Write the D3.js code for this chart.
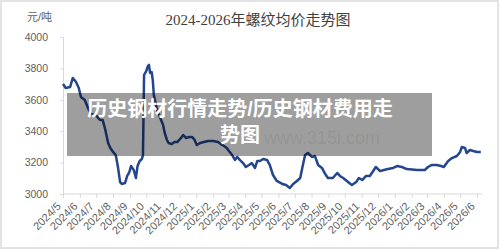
<!DOCTYPE html>
<html>
<head>
<meta charset="utf-8">
<script src="https://cdn.jsdelivr.net/npm/d3@7"></script>
<style>
  html, body { margin: 0; padding: 0; background: #fff; }
  svg { display: block; }
</style>
</head>
<body>
<div id="chart"></div>
<script>
// rebar average price, yuan per tonne
let dates = [
    '2024-05-01', '2024-05-06', '2024-05-14', '2024-05-19', '2024-05-25', '2024-05-30',
    '2024-06-03', '2024-06-10', '2024-06-16', '2024-06-21', '2024-06-30',
    '2024-07-08', '2024-07-13', '2024-07-17', '2024-07-23', '2024-07-27',
    '2024-08-01', '2024-08-06', '2024-08-10', '2024-08-14', '2024-08-17', '2024-08-23', '2024-08-27', '2024-08-31',
    '2024-09-03', '2024-09-08', '2024-09-12', '2024-09-15', '2024-09-19', '2024-09-23', '2024-09-25', '2024-09-27',
    '2024-10-01', '2024-10-04', '2024-10-06', '2024-10-08', '2024-10-11', '2024-10-13', '2024-10-15', '2024-10-20', '2024-10-26',
    '2024-11-01', '2024-11-04', '2024-11-08', '2024-11-11', '2024-11-17', '2024-11-22', '2024-11-27',
    '2024-12-04', '2024-12-08', '2024-12-13', '2024-12-19', '2024-12-24', '2024-12-28',
    '2025-01-02', '2025-01-08', '2025-01-15', '2025-01-23',
    '2025-02-01', '2025-02-10', '2025-02-15', '2025-02-21', '2025-02-26',
    '2025-03-02', '2025-03-08', '2025-03-13', '2025-03-17', '2025-03-22', '2025-03-28',
    '2025-04-02', '2025-04-08', '2025-04-13', '2025-04-19', '2025-04-23', '2025-04-28',
    '2025-05-04', '2025-05-11', '2025-05-16', '2025-05-22', '2025-05-29',
    '2025-06-08', '2025-06-15', '2025-06-22', '2025-06-28',
    '2025-07-05', '2025-07-11', '2025-07-16', '2025-07-20', '2025-07-25',
    '2025-08-02', '2025-08-07', '2025-08-13', '2025-08-20', '2025-08-26', '2025-08-31',
    '2025-09-09', '2025-09-17', '2025-09-22', '2025-09-28',
    '2025-10-07', '2025-10-14', '2025-10-22', '2025-10-27',
    '2025-11-02', '2025-11-09', '2025-11-16', '2025-11-21', '2025-11-27',
    '2025-12-05', '2025-12-12', '2025-12-19', '2025-12-29',
    '2026-01-05', '2026-01-14', '2026-01-23',
    '2026-02-11', '2026-02-25',
    '2026-03-03', '2026-03-10', '2026-03-19', '2026-03-27',
    '2026-04-01', '2026-04-09', '2026-04-16', '2026-04-25',
    '2026-05-01', '2026-05-04', '2026-05-10', '2026-05-13', '2026-05-19', '2026-05-25',
    '2026-06-01', '2026-06-08'
];

let prices = [
    3701, 3675, 3681, 3739, 3713, 3675,
    3618, 3599, 3548, 3510, 3503,
    3471, 3471, 3420, 3325, 3293,
    3268, 3248, 3172, 3076, 3064, 3070, 3115, 3140,
    3178, 3153, 3102, 3178, 3210, 3223, 3248, 3758,
    3783, 3815, 3822, 3771, 3777, 3726, 3631, 3548, 3490,
    3439, 3389, 3344, 3325, 3318, 3331, 3331,
    3357, 3376, 3357, 3363, 3363, 3350,
    3312, 3325, 3331, 3338,
    3338, 3331, 3318, 3306, 3293,
    3274, 3248, 3217, 3236, 3217, 3197,
    3172, 3185, 3197, 3166, 3210, 3210,
    3223, 3217, 3185, 3121, 3083,
    3064, 3057, 3038, 3064,
    3083, 3102, 3185, 3248, 3261,
    3236, 3242, 3185, 3166, 3127, 3102,
    3102, 3134, 3115, 3102,
    3076, 3057, 3076, 3102,
    3089, 3115, 3115, 3140, 3172,
    3146, 3153, 3159, 3166,
    3178, 3172, 3159,
    3153, 3153,
    3172, 3185, 3185, 3178,
    3172, 3210, 3229, 3242,
    3268, 3299, 3293, 3261, 3280, 3274,
    3268, 3268
];

let y_ticks = [3000, 3200, 3400, 3600, 3800, 4000];
let month_ticks = [
    '2024-05-01', '2024-06-01', '2024-07-01', '2024-08-01', '2024-09-01', '2024-10-01',
    '2024-11-01', '2024-12-01', '2025-01-01', '2025-02-01', '2025-03-01', '2025-04-01',
    '2025-05-01', '2025-06-01', '2025-07-01', '2025-08-01', '2025-09-01', '2025-10-01',
    '2025-11-01', '2025-12-01', '2026-01-01', '2026-02-01', '2026-03-01', '2026-04-01',
    '2026-05-01', '2026-06-01'
];

let title = '2024-2026年螺纹均价走势图';
let unit = '元/吨';
let caption = ['历史钢材行情走势/历史钢材费用走', '势图'];
let watermark = 'www.315i.com';

const width = 500, height = 250;
const axis_color = '#d9d9d9';
const text_color = '#5f5f5f';
const sans = '"Liberation Sans", "Noto Sans CJK SC", sans-serif';
const serif = '"Liberation Serif", "Noto Sans CJK SC", serif';

let parse = d3.utcParse('%Y-%m-%d');
let data = dates.map(function (d, i) { return { date: parse(d), value: prices[i] }; });

let svg = d3.select('#chart')
    .append('svg')
    .attr('width', width)
    .attr('height', height);

svg.append('rect')
    .attr('x', 1)
    .attr('y', 1)
    .attr('width', width - 3)
    .attr('height', height - 3)
    .attr('fill', '#fff')
    .attr('stroke', '#e3e3e3')
    .attr('stroke-width', 2);

let x = d3.scaleUtc()
    .domain([parse(month_ticks[0]), parse(month_ticks[month_ticks.length - 1])])
    .range([63, 477]);

let y = d3.scaleLinear()
    .domain([3000, 4000])
    .range([194, 37]);

// title and unit
svg.append('text')
    .attr('x', 258)
    .attr('y', 25)
    .attr('text-anchor', 'middle')
    .attr('font-family', serif)
    .attr('font-size', '15px')
    .attr('fill', '#404040')
    .text(title);

svg.append('text')
    .attr('x', 27)
    .attr('y', 21)
    .attr('font-family', sans)
    .attr('font-size', '11px')
    .attr('fill', text_color)
    .text(unit);

// y axis
let y_axis = svg.append('g')
    .attr('transform', 'translate(63, 0)')
    .call(d3.axisLeft(y)
        .tickValues(y_ticks)
        .tickFormat(d3.format('d'))
        .tickSize(3)
        .tickPadding(12));

y_axis.selectAll('path, line').attr('stroke', axis_color);
y_axis.selectAll('text')
    .attr('font-family', sans)
    .attr('font-size', '10.5px')
    .attr('fill', text_color);

// x axis
let x_axis = svg.append('g')
    .attr('transform', 'translate(0, 194)')
    .call(d3.axisBottom(x)
        .tickValues(month_ticks.map(parse))
        .tickFormat(d3.utcFormat('%Y/%-m'))
        .tickSize(4)
        .tickSizeOuter(0));

x_axis.select('.domain')
    .attr('d', 'M63,0H482')
    .attr('stroke', axis_color);
x_axis.selectAll('line').attr('stroke', axis_color);
x_axis.selectAll('text')
    .attr('font-family', sans)
    .attr('font-size', '11px')
    .attr('fill', text_color)
    .attr('text-anchor', 'end')
    .attr('dy', null)
    .attr('y', 0)
    .attr('transform', 'translate(-2, 13) rotate(-45)');

// price line
let line = d3.line()
    .x(function (d) { return x(d.date); })
    .y(function (d) { return y(d.value); });

svg.append('path')
    .datum(data)
    .attr('fill', 'none')
    .attr('stroke', '#24468e')
    .attr('stroke-width', 2.5)
    .attr('stroke-linejoin', 'round')
    .attr('d', line);

// watermark under the caption band
svg.append('text')
    .attr('x', 264)
    .attr('y', 144)
    .attr('font-family', sans)
    .attr('font-size', '18px')
    .attr('fill', '#000')
    .attr('fill-opacity', 0.08)
    .text(watermark);

// caption band
svg.append('rect')
    .attr('x', 67)
    .attr('y', 93)
    .attr('width', 365)
    .attr('height', 63)
    .attr('fill', '#000')
    .attr('fill-opacity', 0.38);

svg.append('g')
    .selectAll('text')
    .data(caption)
    .join('text')
    .attr('x', 240)
    .attr('y', function (d, i) { return 116 + i * 26; })
    .attr('text-anchor', 'middle')
    .attr('font-family', sans)
    .attr('font-size', '20px')
    .attr('font-weight', 'bold')
    .attr('fill', '#fff')
    .text(function (d) { return d; });
</script>
</body>
</html>
